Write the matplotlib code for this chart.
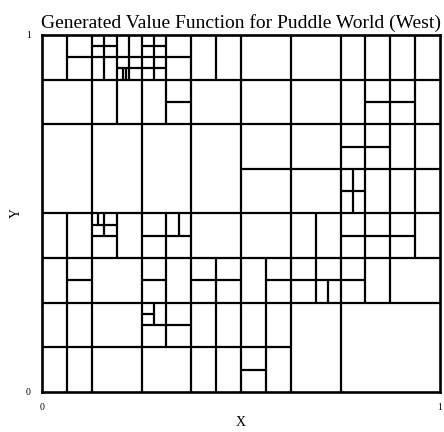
import numpy as np
import matplotlib
matplotlib.use('Agg')
import matplotlib.pyplot as plt

plt.rcParams['font.family'] = ['Liberation Serif', 'DejaVu Serif']

# cell boundaries of the value function partition, in units of 1/16 of the unit square
# vertical segments: x position, y start, y end
v_x  = [1, 1, 2, 2.5, 3, 3, 3.5, 4, 4.5, 5, 5, 6, 7, 7, 8, 9, 10, 11, 11.5,
        12, 12.5, 13, 14, 15, 3.25, 3.375, 2.25, 2.5, 5.5, 4.5]
v_y0 = [14, 0, 0, 14, 12, 6, 14, 0, 14, 12, 2, 0, 14, 0, 0, 0, 0, 4, 4,
        0, 8, 4, 4, 6, 14, 14, 7.5, 7, 7, 3]
v_y1 = [16, 8, 16, 16, 16, 8, 16, 16, 16, 16, 8, 16, 16, 6, 16, 6, 16, 8, 5,
        16, 10, 16, 16, 16, 14.5, 14.5, 8, 8, 8, 4]

# horizontal segments: y position, x start, x end
h_y  = [15.5, 15.5, 15, 14.5, 14, 13, 13, 12, 11, 10, 9, 8, 7.5, 7, 7, 7,
        6, 5, 5, 5, 5, 4, 3.5, 3, 2, 1]
h_x0 = [2, 4, 1, 3, 0, 5, 13, 0, 12, 8, 12, 0, 2, 2, 4, 12,
        0, 1, 4, 6, 9, 0, 4, 4, 0, 8]
h_x1 = [3, 5, 6, 5, 16, 6, 15, 16, 14, 16, 13, 16, 3, 3, 6, 15,
        16, 2, 5, 8, 13, 16, 4.5, 6, 10, 9]

n_div = 16.0

fig = plt.figure(figsize=(4.44, 4.32), dpi=100)
ax = fig.add_axes([0.0946, 0.0926, 0.8964, 0.8264])

ax.vlines(np.array(v_x) / n_div, np.array(v_y0) / n_div, np.array(v_y1) / n_div,
          colors='black', linewidth=1.6)
ax.hlines(np.array(h_y) / n_div, np.array(h_x0) / n_div, np.array(h_x1) / n_div,
          colors='black', linewidth=1.6)

ax.set_xlim(0, 1)
ax.set_ylim(0, 1)
ax.set_xticks([0, 1])
ax.set_yticks([0, 1])
ax.set_xticklabels(['0', '1'])
ax.set_yticklabels(['0', '1'])
ax.tick_params(length=0, labelsize=7, pad=8)
for s in ax.spines.values():
    s.set_linewidth(1.9)

ax.set_title('Generated Value Function for Puddle World (West)', fontsize=14, pad=5)
ax.set_xlabel('X', fontsize=10, labelpad=3)
ax.set_ylabel('Y', fontsize=10, labelpad=2)

fig.savefig('out.png', dpi=100)
